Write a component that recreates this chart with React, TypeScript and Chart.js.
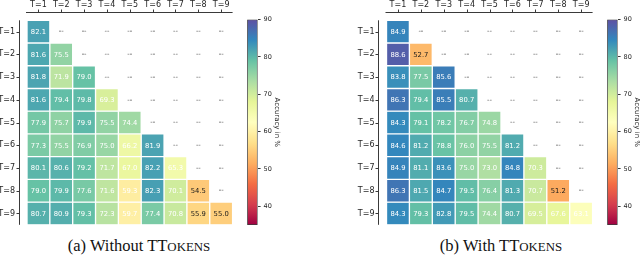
import React, { useEffect, useRef } from 'react';
import { Chart, registerables } from 'chart.js';

Chart.register(...registerables);

const steps = ['T=1', 'T=2', 'T=3', 'T=4', 'T=5', 'T=6', 'T=7', 'T=8', 'T=9'];

const withoutRows: number[][] = [
  [82.1],
  [81.6, 75.5],
  [81.8, 71.9, 79.0],
  [81.6, 79.4, 79.8, 69.3],
  [77.9, 75.7, 79.9, 75.5, 74.4],
  [77.3, 75.5, 76.9, 75.0, 66.2, 81.9],
  [80.1, 80.6, 79.2, 71.7, 67.0, 82.2, 65.3],
  [79.0, 79.9, 77.6, 71.6, 59.3, 82.3, 70.1, 54.5],
  [80.7, 80.9, 79.3, 72.3, 59.7, 77.4, 70.8, 55.9, 55.0],
];

const withRows: number[][] = [
  [84.9],
  [88.6, 52.7],
  [83.8, 77.5, 85.6],
  [86.3, 79.4, 85.5, 80.7],
  [84.3, 79.1, 78.2, 76.7, 74.8],
  [84.6, 81.2, 78.8, 76.0, 75.5, 81.2],
  [84.9, 81.1, 83.6, 75.0, 73.0, 84.8, 70.3],
  [86.3, 81.5, 84.7, 79.5, 76.4, 81.3, 70.7, 51.2],
  [84.3, 79.3, 82.8, 79.5, 74.4, 80.7, 69.5, 67.6, 63.1],
];

const colorbarTicks = [40, 50, 60, 70, 80, 90];
const vMin = 35;
const vMax = 90;
const colorbarLabel = 'Accuracy in %';

const SPECTRAL = [
  [158, 1, 66], [213, 62, 79], [244, 109, 67], [253, 174, 97], [254, 224, 139],
  [255, 255, 191], [230, 245, 152], [171, 221, 164], [102, 194, 165], [50, 136, 189], [94, 79, 162],
];

function spectral(t: number): string {
  const tt = Math.max(0, Math.min(1, t)) * 10;
  const i = Math.min(9, Math.floor(tt));
  const f = tt - i;
  const a = SPECTRAL[i];
  const b = SPECTRAL[i + 1];
  const c = a.map((v, k) => Math.round(v + (b[k] - v) * f));
  return `rgb(${c[0]},${c[1]},${c[2]})`;
}

function cellColor(v: number): string {
  return spectral((v - vMin) / (vMax - vMin));
}

const FONT = "'DejaVu Sans', sans-serif";
const TEXT = '#262626';

function heatmapConfig(rows: number[][], axisWidth: number): any {
  const datasets = rows.map((row, r) => ({
    data: steps.map((_, c) => (c < row.length ? [r + 0.5, r + 1.5] : null)),
    backgroundColor: steps.map((_, c) => (c < row.length ? cellColor(row[c]) : 'rgba(0,0,0,0)')),
    borderColor: '#ffffff',
    borderWidth: 1,
    borderSkipped: false,
    barPercentage: 1,
    categoryPercentage: 1,
    grouped: false,
  }));
  const labelPlugin = {
    id: 'heatLabels',
    afterDatasetsDraw(chart: any) {
      const ctx = chart.ctx;
      const xs = chart.scales.x;
      const ys = chart.scales.y;
      const ca = chart.chartArea;
      ctx.save();
      ctx.textAlign = 'center';
      ctx.textBaseline = 'middle';
      rows.forEach((row, r) => {
        steps.forEach((_, c) => {
          const x = xs.getPixelForValue(c);
          const y = ys.getPixelForValue(r + 1);
          ctx.font = `6.8px ${FONT}`;
          if (c < row.length) {
            ctx.fillStyle = row[c] < 57 ? '#1a1a1a' : '#ffffff';
            ctx.fillText(row[c].toFixed(1), x, y + 0.5);
          } else {
            ctx.fillStyle = '#555555';
            ctx.fillText('--', x, y);
          }
        });
      });
      // offset spines
      ctx.strokeStyle = '#3a3a3a';
      ctx.lineWidth = 1;
      const topY = Math.floor(ca.top - 7.6) + 0.5;
      const leftX = Math.floor(ca.left - 7.7) + 0.5;
      ctx.beginPath();
      ctx.moveTo(ca.left - 1, topY);
      ctx.lineTo(ca.right, topY);
      steps.forEach((_, c) => {
        const x = Math.round(xs.getPixelForValue(c)) + 0.5;
        ctx.moveTo(x, topY);
        ctx.lineTo(x, topY - 3);
      });
      ctx.moveTo(leftX, ca.top);
      ctx.lineTo(leftX, ca.bottom);
      steps.forEach((_, r) => {
        const y = Math.round(ys.getPixelForValue(r + 1)) + 0.5;
        ctx.moveTo(leftX, y);
        ctx.lineTo(leftX - 3, y);
      });
      ctx.stroke();
      ctx.restore();
    },
  };
  return {
    type: 'bar',
    data: { labels: steps, datasets },
    options: {
      animation: false,
      responsive: false,
      maintainAspectRatio: false,
      layout: { padding: { left: 0, top: 0, right: 12.4, bottom: 7.2 } },
      plugins: { legend: { display: false }, tooltip: { enabled: false } },
      scales: {
        x: {
          type: 'category',
          position: 'top',
          offset: true,
          grid: { display: false, drawTicks: false },
          border: { display: false },
          ticks: { font: { family: FONT, size: 8 }, color: TEXT, padding: 11, maxRotation: 0, autoSkip: false },
          afterFit: (s: any) => {
            s.height = 20.3;
            s.paddingLeft = 0;
            s.paddingRight = 0;
          },
        },
        y: {
          type: 'linear',
          reverse: true,
          min: 0.5,
          max: 9.5,
          afterBuildTicks: (s: any) => {
            s.ticks = steps.map((_, i) => ({ value: i + 1 }));
          },
          grid: { display: false, drawTicks: false },
          border: { display: false },
          ticks: {
            font: { family: FONT, size: 8 },
            color: TEXT,
            padding: 12,
            callback: (v: any) => steps[Math.round(v) - 1] ?? '',
          },
          afterFit: (s: any) => {
            s.width = axisWidth;
            s.paddingTop = 0;
            s.paddingBottom = 0;
          },
        },
      },
    },
    plugins: [labelPlugin],
  };
}

function colorbarConfig(): any {
  return {
    type: 'bar',
    data: {
      labels: ['cb'],
      datasets: [
        {
          data: [[vMin, vMax]],
          backgroundColor: (context: any) => {
            const chart = context.chart;
            const y = chart.scales.y;
            if (!chart.chartArea || !y) return spectral(0.5);
            const g = chart.ctx.createLinearGradient(0, y.getPixelForValue(vMin), 0, y.getPixelForValue(vMax));
            for (let i = 0; i <= 60; i++) g.addColorStop(i / 60, spectral(i / 60));
            return g;
          },
          borderColor: '#3a3a3a',
          borderWidth: 1,
          borderSkipped: false,
          barPercentage: 1,
          categoryPercentage: 1,
        },
      ],
    },
    options: {
      animation: false,
      responsive: false,
      maintainAspectRatio: false,
      layout: { padding: { left: 7.2, right: 0, top: 19.5, bottom: 7 } },
      plugins: { legend: { display: false }, tooltip: { enabled: false } },
      scales: {
        x: { display: false },
        y: {
          position: 'right',
          min: vMin,
          max: vMax,
          afterBuildTicks: (s: any) => {
            s.ticks = colorbarTicks.map((v) => ({ value: v }));
          },
          ticks: { font: { family: FONT, size: 6.5 }, color: TEXT, padding: 3 },
          grid: { display: true, drawOnChartArea: false, drawTicks: true, tickLength: 3, color: '#3a3a3a' },
          border: { display: false },
          title: {
            display: true,
            text: colorbarLabel,
            font: { family: FONT, size: 7 },
            color: TEXT,
            padding: { top: 6.8, bottom: 0 },
          },
          afterFit: (s: any) => {
            s.width = 30.4;
            s.paddingTop = 0;
            s.paddingBottom = 0;
          },
        },
      },
    },
  };
}

function ChartCanvas({ config, left, top, width, height }: { config: () => any; left: number; top: number; width: number; height: number }) {
  const ref = useRef<HTMLCanvasElement | null>(null);
  useEffect(() => {
    if (!ref.current) return;
    const chart = new Chart(ref.current, config());
    return () => chart.destroy();
  }, []);
  return (
    <canvas
      ref={ref}
      width={width}
      height={height}
      style={{ position: 'absolute', left, top, width, height }}
    />
  );
}

function Caption({ prefix, center }: { prefix: string; center: number }) {
  return (
    <div
      style={{
        position: 'absolute',
        left: center - 140,
        width: 280,
        top: 235.5,
        lineHeight: '19px',
        textAlign: 'center',
        fontFamily: "'Liberation Serif', 'Times New Roman', serif",
        fontSize: 16.5,
        color: '#111',
        whiteSpace: 'nowrap',
      }}
    >
      {prefix} TT<span style={{ fontSize: '0.78em' }}>OKENS</span>
    </div>
  );
}

export default function App() {
  return (
    <div
      style={{
        position: 'fixed',
        left: 0,
        top: 0,
        width: 640,
        height: 258,
        background: '#ffffff',
        overflow: 'hidden',
      }}
    >
      <ChartCanvas config={() => heatmapConfig(withoutRows, 27)} left={0} top={0} width={245} height={232} />
      <ChartCanvas config={colorbarConfig} left={240} top={0} width={48} height={232} />
      <ChartCanvas config={() => heatmapConfig(withRows, 46.5)} left={340} top={0} width={265} height={232} />
      <ChartCanvas config={colorbarConfig} left={600} top={0} width={48} height={232} />
      <Caption prefix="(a) Without" center={139} />
      <Caption prefix="(b) With" center={501} />
    </div>
  );
}
